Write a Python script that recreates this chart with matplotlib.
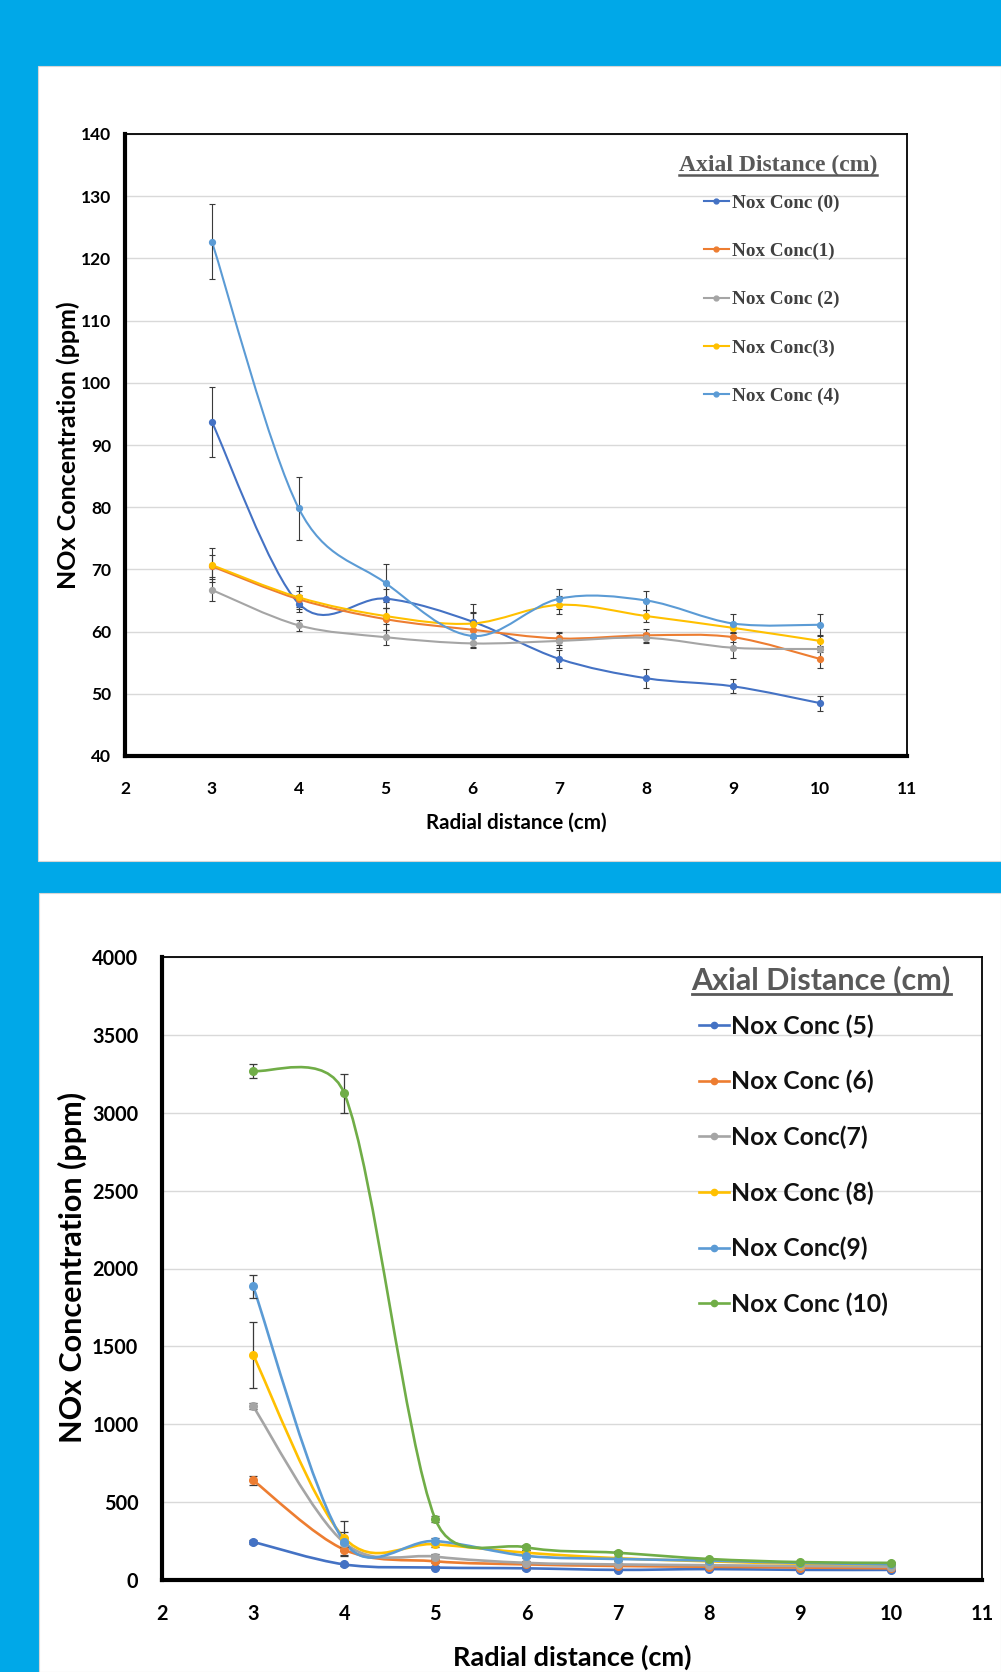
import numpy as np
import matplotlib
matplotlib.use("Agg")
import matplotlib.pyplot as plt
from matplotlib.path import Path
from matplotlib.patches import PathPatch, Rectangle
from matplotlib.lines import Line2D

# ---- data: top chart (axial distance 0-4 cm) ----
radial = [3, 4, 5, 6, 7, 8, 9, 10]

nox_0 = [93.7, 64.5, 65.3, 61.6, 55.6, 52.5, 51.2, 48.5]
nox_1 = [70.5, 65.2, 62.0, 60.3, 58.9, 59.4, 59.1, 55.6]
nox_2 = [66.7, 61.0, 59.1, 58.1, 58.5, 59.0, 57.4, 57.2]
nox_3 = [70.7, 65.5, 62.5, 61.3, 64.3, 62.5, 60.6, 58.5]
nox_4 = [122.7, 79.8, 67.8, 59.3, 65.3, 65.0, 61.3, 61.1]

err_0 = [5.7, 1.4, 1.5, 1.4, 1.4, 1.5, 1.1, 1.2]
err_1 = [1.8, 1.3, 1.8, 2.8, 1.0, 1.0, 0.8, 1.4]
err_2 = [1.8, 0.9, 1.2, 0.8, 1.2, 0.8, 1.6, 0.5]
err_3 = [2.7, 1.9, 1.3, 3.2, 1.4, 1.0, 0.8, 1.0]
err_4 = [6.0, 5.0, 3.0, 1.0, 1.6, 1.5, 1.5, 1.8]

top_labels = ["Nox Conc (0)", "Nox Conc(1)", "Nox Conc (2)", "Nox Conc(3)", "Nox Conc (4)"]

# ---- data: bottom chart (axial distance 5-10 cm) ----
nox_5 = [245, 100, 80, 75, 65, 70, 65, 65]
nox_6 = [640, 195, 120, 100, 90, 85, 80, 75]
nox_7 = [1115, 240, 150, 110, 100, 95, 90, 85]
nox_8 = [1445, 270, 230, 175, 140, 120, 105, 100]
nox_9 = [1885, 245, 250, 155, 135, 125, 110, 100]
nox_10 = [3270, 3125, 390, 210, 175, 135, 115, 110]

err_5 = [15, 10, 8, 8, 6, 6, 6, 6]
err_6 = [30, 40, 10, 8, 8, 6, 6, 6]
err_7 = [20, 30, 15, 10, 8, 8, 6, 6]
err_8 = [210, 110, 20, 15, 10, 8, 8, 6]
err_9 = [75, 60, 20, 15, 10, 8, 8, 6]
err_10 = [45, 125, 20, 15, 10, 8, 8, 6]

bottom_labels = ["Nox Conc (5)", "Nox Conc (6)", "Nox Conc(7)", "Nox Conc (8)", "Nox Conc(9)", "Nox Conc (10)"]

top_series = [nox_0, nox_1, nox_2, nox_3, nox_4]
top_errs = [err_0, err_1, err_2, err_3, err_4]
bottom_series = [nox_5, nox_6, nox_7, nox_8, nox_9, nox_10]
bottom_errs = [err_5, err_6, err_7, err_8, err_9, err_10]

colors = ["#4472C4", "#ED7D31", "#A5A5A5", "#FFC000", "#5B9BD5", "#70AD47"]

W, H = 1001, 1672
BLUE = "#00A8E8"
SANS = "Lato"
SERIF = "Liberation Serif"


def smooth_path(ax, xs, ys):
    # Excel-like smoothed line: Catmull-Rom tangents, worked out in pixels,
    # with each control arm limited to half of its segment
    pts = ax.transData.transform(np.column_stack([xs, ys]).astype(float))
    n = len(pts)
    verts = [pts[0]]
    codes = [Path.MOVETO]
    for i in range(n - 1):
        p0 = pts[max(i - 1, 0)]
        p1 = pts[i]
        p2 = pts[i + 1]
        p3 = pts[min(i + 2, n - 1)]
        seg = np.hypot(*(p2 - p1))
        t1 = (p2 - p0) / 6
        t2 = (p3 - p1) / 6
        l1 = np.hypot(*t1)
        l2 = np.hypot(*t2)
        if l1 > seg / 2:
            t1 = t1 * (seg / 2) / l1
        if l2 > seg / 2:
            t2 = t2 * (seg / 2) / l2
        verts += [p1 + t1, p2 - t2, p2]
        codes += [Path.CURVE4] * 3
    verts = ax.transData.inverted().transform(np.array(verts))
    return Path(verts, codes)


def px_rect(x0, y0, x1, y1):
    return [x0 / W, 1 - y1 / H, (x1 - x0) / W, (y1 - y0) / H]


fig = plt.figure(figsize=(W / 100, H / 100), dpi=100)
fig.patch.set_facecolor(BLUE)

for (x0, y0, x1, y1) in [(38, 66, 1001, 861), (39, 893, 1001, 1672)]:
    fig.add_artist(Rectangle((x0 / W, 1 - y1 / H), (x1 - x0) / W, (y1 - y0) / H,
                             transform=fig.transFigure, facecolor="white",
                             edgecolor="#d6d6d6", lw=0.8, zorder=-5))


def draw_chart(ax, series, errs, cols, lw, ms, elw, cap):
    for ys, es, c in zip(series, errs, cols):
        ax.add_patch(PathPatch(smooth_path(ax, radial, ys), fill=False, edgecolor=c,
                               lw=lw, zorder=3, capstyle="round"))
        ax.errorbar(radial, ys, yerr=es, fmt="none", ecolor="#3a3a3a",
                    elinewidth=elw, capsize=cap, capthick=elw, zorder=4)
        ax.plot(radial, ys, "o", color=c, ms=ms, zorder=5)


def style_axes(ax, thick, thin):
    for side in ["left", "bottom"]:
        ax.spines[side].set_linewidth(thick)
    for side in ["top", "right"]:
        ax.spines[side].set_linewidth(thin)
    for s in ax.spines.values():
        s.set_color("black")
    ax.grid(axis="y", color="#d9d9d9", lw=1.0)
    ax.set_axisbelow(True)


def underline(text, offset_px, lw, color):
    fig.canvas.draw()
    bb = text.get_window_extent()
    y = (bb.y0 + offset_px) / H
    fig.add_artist(Line2D([bb.x0 / W, bb.x1 / W], [y, y], color=color, lw=lw,
                          transform=fig.transFigure))


# ---------------- top chart ----------------
ax1 = fig.add_axes(px_rect(125, 134, 907, 756))
ax1.set_xlim(2, 11)
ax1.set_ylim(40, 140)
draw_chart(ax1, top_series, top_errs, colors[:5], 1.5, 4.2, 0.8, 2.5)
ax1.set_xticks(range(2, 12))
ax1.set_yticks(range(40, 141, 10))
style_axes(ax1, 3.0, 1.3)
ax1.tick_params(axis="both", length=0, labelsize=12.5)
ax1.tick_params(axis="x", pad=18)
ax1.tick_params(axis="y", pad=10)
for lab in ax1.get_xticklabels() + ax1.get_yticklabels():
    lab.set_fontfamily(SANS)
    lab.set_fontweight("bold")
ax1.set_xlabel("Radial distance (cm)", fontsize=14.8, fontweight="bold", family=SANS)
ax1.xaxis.label.set_va("center")
ax1.xaxis.set_label_coords(0.5, -0.1077)
ax1.set_ylabel("NOx Concentration (ppm)", fontsize=18, fontweight="bold", family=SANS)
ax1.yaxis.label.set_va("center")
ax1.yaxis.set_label_coords(-0.0729, 0.5)

h1 = [Line2D([], [], color=c, lw=1.5, marker="o", ms=3.5) for c in colors[:5]]
leg1 = ax1.legend(h1, top_labels, loc="upper left", bbox_to_anchor=(0.7404, 0.903),
                  frameon=False, borderpad=0, borderaxespad=0, handlelength=1.28,
                  handletextpad=0.2, labelspacing=1.61,
                  prop={"family": SERIF, "weight": "bold", "size": 13.8})
for t in leg1.get_texts():
    t.set_color("#404040")
t1 = ax1.text(0.835, 0.950, "Axial Distance (cm)", transform=ax1.transAxes,
              ha="center", va="center", family=SERIF, fontweight="bold",
              fontsize=17, color="#595959")

# ---------------- bottom chart ----------------
ax2 = fig.add_axes(px_rect(162, 957, 982, 1580))
ax2.set_xlim(2, 11)
ax2.set_ylim(0, 4000)
draw_chart(ax2, bottom_series, bottom_errs, colors, 1.9, 5.5, 0.9, 3)
ax2.set_xticks(range(2, 12))
ax2.set_yticks(range(0, 4001, 500))
style_axes(ax2, 3.0, 1.3)
ax2.tick_params(axis="both", length=0, labelsize=14.3)
ax2.tick_params(axis="x", pad=17)
ax2.tick_params(axis="y", pad=17)
for lab in ax2.get_xticklabels() + ax2.get_yticklabels():
    lab.set_fontfamily(SANS)
    lab.set_fontweight("bold")
ax2.set_xlabel("Radial distance (cm)", fontsize=19.5, fontweight="bold", family=SANS)
ax2.xaxis.label.set_va("center")
ax2.xaxis.set_label_coords(0.5, -0.1236)
ax2.set_ylabel("NOx Concentration (ppm)", fontsize=22, fontweight="bold", family=SANS)
ax2.yaxis.label.set_va("center")
ax2.yaxis.set_label_coords(-0.1098, 0.502)

h2 = [Line2D([], [], color=c, lw=1.9, marker="o", ms=4.5) for c in colors]
leg2 = ax2.legend(h2, bottom_labels, loc="upper left", bbox_to_anchor=(0.655, 0.908),
                  frameon=False, borderpad=0, borderaxespad=0, handlelength=1.22,
                  handletextpad=0.08, labelspacing=1.30,
                  prop={"family": SANS, "weight": "bold", "size": 17.8})
for t in leg2.get_texts():
    t.set_color("#111111")
t2 = ax2.text(0.804, 0.963, "Axial Distance (cm)", transform=ax2.transAxes,
              ha="center", va="center", family=SANS, fontweight="bold",
              fontsize=22, color="#595959")

underline(t1, 1, 1.8, "#595959")
underline(t2, 1, 2.0, "#595959")

fig.savefig("out.png", dpi=100, facecolor=fig.get_facecolor())
